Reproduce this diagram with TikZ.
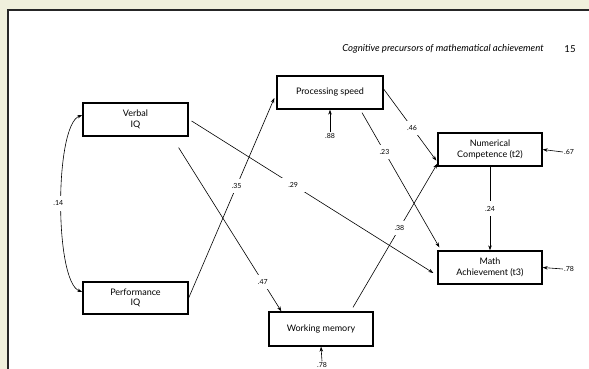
\documentclass[tikz,border=0pt]{standalone}
\usepackage{fontspec}
\setmainfont{Lato}
\usepackage{xcolor}
\usepackage{tikz}
\usetikzlibrary{arrows.meta}
\definecolor{pagebg}{HTML}{F0F0DC}
\tikzset{
  var/.style={draw, line width=1.3pt, minimum height=33pt, inner sep=1pt, align=center, font=\fontsize{9}{10.5}\selectfont},
  coef/.style={fill=white, inner sep=1pt, font=\fontsize{7}{8}\selectfont},
  gap/.style={inner sep=4.5pt},
  path/.style={line width=0.6pt, -{Stealth[length=5pt,width=3.5pt]}}
}
\begin{document}
\begin{tikzpicture}[x=1pt,y=-1pt]
\useasboundingbox (0,0) rectangle (589,369);
\fill[pagebg] (0,0) rectangle (589,369);
\fill[white] (8,10) rectangle (589,369);
\draw[line width=1.6pt, black!85] (8,369) -- (8,10) -- (589,10);
\node[font=\fontsize{9.6}{11}\selectfont\itshape] at (443,49) {Cognitive precursors of mathematical achievement};
\node[font=\fontsize{9.6}{11}\selectfont] at (570,49) {15};

\node[var, minimum width=105pt] (verbal) at (135.5,119.5) {Verbal\\IQ};
\node[var, minimum width=105pt, minimum height=32pt] (perf) at (135.5,298) {Performance\\IQ};
\node[var, minimum width=106pt] (speed) at (330,92.5) {Processing speed};
\node[var, minimum width=104pt] (numer) at (490,149.5) {Numerical\\Competence (t2)};
\node[var, minimum width=104pt] (math) at (490,267.5) {Math\\Achievement (t3)};
\node[var, minimum width=104pt, minimum height=34pt] (wm) at (321,329) {Working memory};

\draw[line width=0.6pt, {Stealth[length=5pt,width=3.5pt]}-{Stealth[length=5pt,width=3.5pt]}]
  ([yshift=4.5pt]verbal.west) .. controls +(-28,10) and +(-28,-10) .. ([yshift=6pt]perf.west)
  node[coef, gap, pos=0.5, xshift=-3pt] (c14) {.14};
\draw[path] (perf.east) -- ([xshift=-2pt,yshift=-5.5pt]speed.west)
  node[coef, gap, pos=0.56] (c35) {.35};
\draw[path] ([xshift=3pt,yshift=-1.5pt]verbal.east) -- ([xshift=-4pt,yshift=-5.5pt]math.west)
  node[coef, gap, inner xsep=8pt, pos=0.42] (c29) {.29};
\draw[path] ([xshift=-10pt,yshift=-11pt]verbal.south east) -- ([xshift=13pt]wm.north west)
  node[coef, gap, pos=0.82] (c47) {.47};
\draw[path] ([yshift=3.5pt]speed.east) -- ([xshift=-1pt,yshift=6pt]numer.south west)
  node[coef, gap, pos=0.54] (c46) {.46};
\draw[path] ([xshift=32pt,yshift=-3pt]speed.south) -- ([xshift=2pt,yshift=3pt]math.north west)
  node[coef, gap, pos=0.29] (c23) {.23};
\draw[path] ([xshift=32pt,yshift=4pt]wm.north) -- ([yshift=3pt]numer.south west)
  node[coef, gap, pos=0.55] (c38) {.38};
\draw[path] (numer.south) -- (math.north)
  node[coef, gap, pos=0.5] (c24) {.24};

\node[coef] (e88) at (330,136) {.88};
\node[coef] (e67) at (569,152) {.67};
\node[coef] (e78a) at (569,269) {.78};
\node[coef] (e78b) at (322,365) {.78};
\draw[path] (e88.north) -- (speed.south);
\draw[path] (e67.west) -- (numer.east);
\draw[path] (e78a.west) -- (math.east);
\draw[path] (e78b.north) -- (wm.south);
\end{tikzpicture}
\end{document}
